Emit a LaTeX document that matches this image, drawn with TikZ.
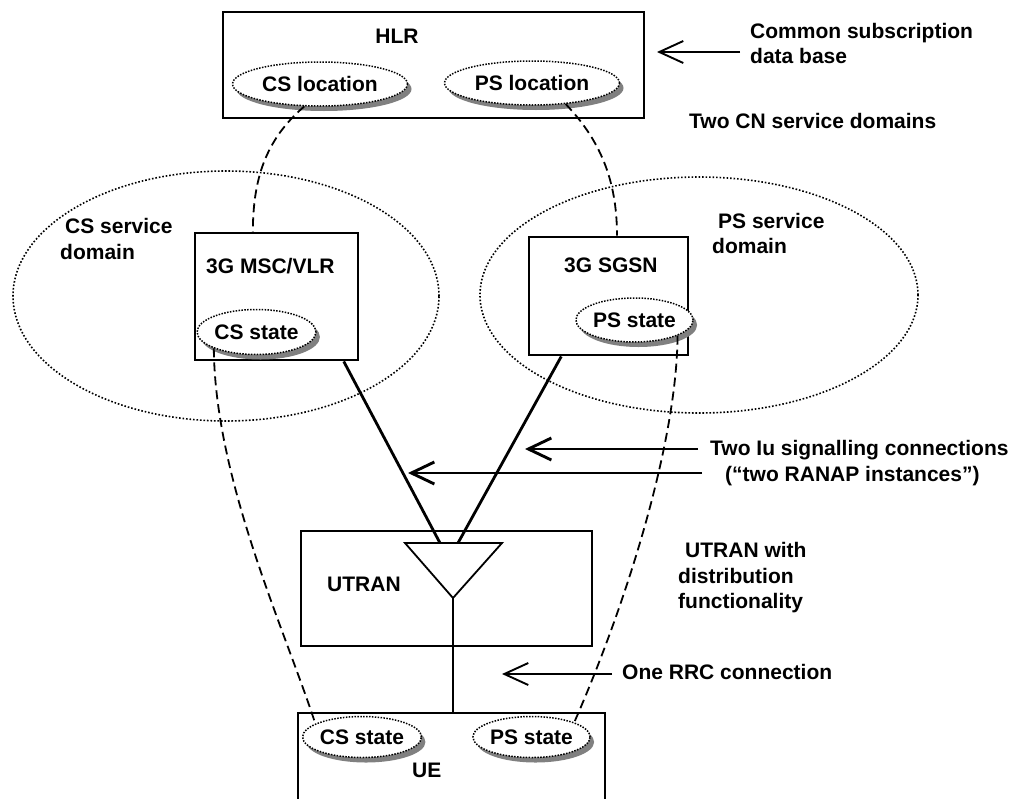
\documentclass[tikz,border=0pt]{standalone}
\usepackage{fontspec}
\setmainfont{Liberation Sans}
\usetikzlibrary{shapes.geometric,shadows,arrows.meta,calc}
\begin{document}
\begin{tikzpicture}[x=1pt,y=-1pt,
  every node/.style={font=\fontsize{21}{25}\selectfont\bfseries, inner sep=0pt},
  box/.style={draw, line width=2.9pt, fill=white, rectangle},
  lbl/.style={anchor=base west},
  stateell/.style={ellipse, draw, line width=1.5pt, dash pattern=on 1.5pt off 1.4pt, fill=white,
    drop shadow={shadow xshift=4pt, shadow yshift=-5pt, fill=gray, opacity=1}},
  domainell/.style={ellipse, draw, line width=1.6pt, dash pattern=on 1.6pt off 1.9pt},
  sigline/.style={line width=1.8pt, dash pattern=on 9pt off 5pt},
  iuline/.style={line width=2.8pt},
  thinarrow/.style={line width=1.9pt, -{Straight Barb[length=24pt,width=22pt]}},
  thickarrow/.style={line width=2.9pt, -{Straight Barb[length=23pt,width=22pt]}}
]
\useasboundingbox (0,0) rectangle (1017,798);
\clip (0,0) rectangle (1017,798);

% service domains
\node[domainell, minimum width=426pt, minimum height=250pt] (csdom) at (226,296) {};
\node[domainell, minimum width=438pt, minimum height=236pt] (psdom) at (699,295) {};

% boxes
\node[box, minimum width=421pt, minimum height=106pt] (hlr) at (433.5,65) {};
\node[box, minimum width=163pt, minimum height=127pt] (msc) at (276.5,296.5) {};
\node[box, minimum width=159pt, minimum height=118pt] (sgsn) at (608.5,296) {};
\node[box, minimum width=291pt, minimum height=115pt] (utran) at (446.5,588.5) {};
\node[box, minimum width=307pt, minimum height=110pt] (ue) at (451.5,768) {};

% box titles
\node[anchor=base] (hlrt) at (397,43) {HLR};
\node[lbl] (msct) at (206,273) {3G MSC/VLR};
\node[lbl] (sgsnt) at (564,272) {3G SGSN};
\node[lbl] (utrant) at (327,591) {UTRAN};
\node[lbl] (uet) at (412,777) {UE};

% state ellipses
\node[stateell, minimum width=175pt, minimum height=44pt] (csloc) at (320,84) {CS location};
\node[stateell, minimum width=175pt, minimum height=44pt] (psloc) at (532,83) {PS location};
\node[stateell, minimum width=117pt, minimum height=45pt] (csst) at (256.5,332) {CS state};
\node[stateell, minimum width=117pt, minimum height=44pt] (psst) at (634.5,320) {PS state};
\node[stateell, minimum width=117pt, minimum height=41pt] (uecs) at (362,737) {CS state};
\node[stateell, minimum width=117pt, minimum height=41pt] (ueps) at (531.5,737) {PS state};

% signalling (dashed) relations
\draw[sigline] (csloc.235) .. controls (265,140) and (253,180) .. (msc.110);
\draw[sigline] (psloc.328) .. controls (600,140) and (617,180) .. (sgsn.82);
\draw[sigline] (csst.201) .. controls (215,480) and (285,630) .. (uecs.164);
\draw[sigline] (psst.340) .. controls (677,440) and (628,600) .. (ueps.19);

% distribution triangle
\coordinate (tl) at (405,543);
\coordinate (tr) at (502,543);
\coordinate (tb) at (453,598);
\coordinate (tin1) at (440,543);
\coordinate (tin2) at (458,543);
\draw[line width=1.8pt, line join=miter] (tl) -- (tr) -- (tb) -- cycle;
\draw[iuline] (msc.316) -- (tin1);
\draw[iuline] (sgsn.232) -- (tin2);
\draw[line width=1.6pt] (tb) -- (tb |- ue.north);

% annotations
\node[lbl] (common1) at (750,38) {Common subscription};
\node[lbl] (common2) at (750,63) {data base};
\coordinate (hlrs) at (740,52);
\coordinate (hlrtip) at (657,52);
\draw[thinarrow] (hlrs) -- (hlrtip);

\node[lbl] (twocn) at (689,128) {Two CN service domains};
\node[lbl] (csd1) at (65,233) {CS service};
\node[lbl] (csd2) at (60,259) {domain};
\node[lbl] (psd1) at (718,228) {PS service};
\node[lbl] (psd2) at (712,253) {domain};

\node[lbl] (iu1) at (710,455) {Two Iu signalling connections};
\node[lbl] (iu2) at (725,481) {(“two RANAP instances”)};
\coordinate (iu1s) at (698,449);
\coordinate (iu1tip) at (525,449);
\coordinate (iu2s) at (702,473);
\coordinate (iu2tip) at (408,473);
\draw[thickarrow] (iu1s) -- (iu1tip);
\draw[thickarrow] (iu2s) -- (iu2tip);

\node[lbl] (ut1) at (685,557) {UTRAN with};
\node[lbl] (ut2) at (678,583) {distribution};
\node[lbl] (ut3) at (678,608) {functionality};

\node[lbl] (rrc) at (622,679) {One RRC connection};
\coordinate (rrcs) at (612,674);
\coordinate (rrctip) at (502,674);
\draw[thinarrow] (rrcs) -- (rrctip);
\end{tikzpicture}
\end{document}
